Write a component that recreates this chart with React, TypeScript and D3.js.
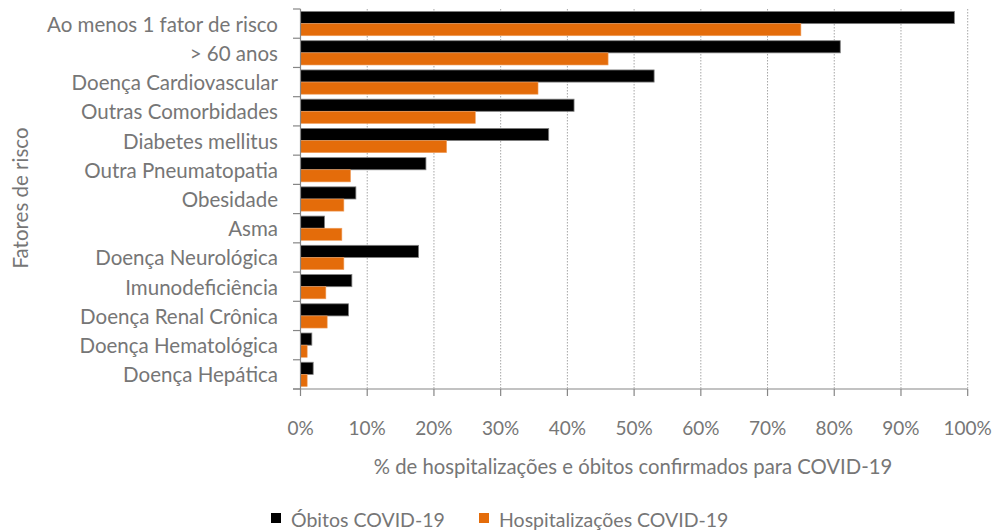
import React from "react";
import * as d3 from "d3";

const categories = [
  "Ao menos 1 fator de risco",
  "> 60 anos",
  "Doença Cardiovascular",
  "Outras Comorbidades",
  "Diabetes mellitus",
  "Outra Pneumatopatia",
  "Obesidade",
  "Asma",
  "Doença Neurológica",
  "Imunodeficiência",
  "Doença Renal Crônica",
  "Doença Hematológica",
  "Doença Hepática",
];
const obitos = [98.0, 80.9, 53.0, 41.0, 37.2, 18.8, 8.3, 3.6, 17.7, 7.7, 7.2, 1.7, 1.9];
const hospitalizacoes = [75.0, 46.1, 35.6, 26.2, 21.9, 7.5, 6.5, 6.2, 6.5, 3.8, 4.0, 1.0, 1.0];
const xTicks = [0, 10, 20, 30, 40, 50, 60, 70, 80, 90, 100];
const seriesNames = ["Óbitos COVID-19", "Hospitalizações COVID-19"];
const seriesColors = ["#000000", "#E46C0A"];

const W = 998;
const H = 530;
const FONT = "Lato, 'Open Sans', sans-serif";
const TXT = "#767676";

export default function App() {
  const x = d3.scaleLinear().domain([0, 100]).range([300.5, 967.7]);
  const y = d3.scaleBand<string>().domain(categories).range([9, 389]).paddingInner(0.17).paddingOuter(0.085);
  const inner = d3.scaleBand<number>().domain([0, 1]).range([0, y.bandwidth()]);
  const series = [obitos, hospitalizacoes];
  const bandStep = y.step();
  const tickYs = categories.map((_, i) => 9 + i * bandStep).concat([389]);

  return (
    <svg width={W} height={H} style={{ position: "absolute", left: 0, top: 0 }} fontFamily={FONT}>
      {xTicks.filter((t) => t > 0).map((t) => (
        <line key={"g" + t} x1={x(t)} x2={x(t)} y1={9} y2={389} stroke="#A6A6A6" strokeWidth={1} strokeDasharray="1.5,1.5" />
      ))}
      {categories.map((c, i) => (
        <g key={c} transform={`translate(0,${y(c)})`}>
          {series.map((s, k) => (
            <rect
              key={k}
              x={x(0)}
              y={inner(k)!}
              width={x(s[i]) - x(0)}
              height={inner.bandwidth()}
              fill={seriesColors[k]}
              stroke={k === 0 ? "#7f7f7f" : "#F0A060"}
              strokeWidth={k === 0 ? 0.8 : 0.6}
            />
          ))}
        </g>
      ))}
      <line x1={300.5} x2={300.5} y1={9} y2={389} stroke="#868686" strokeWidth={1.2} />
      {tickYs.map((ty, i) => (
        <line key={"yt" + i} x1={293} x2={300.5} y1={ty} y2={ty} stroke="#868686" strokeWidth={1.2} />
      ))}
      <line x1={293} x2={967.7} y1={389} y2={389} stroke="#868686" strokeWidth={1.2} />
      {xTicks.map((t) => (
        <g key={"xt" + t}>
          <line x1={x(t)} x2={x(t)} y1={389} y2={396} stroke="#868686" strokeWidth={1.2} />
          <text x={x(t)} y={427} textAnchor="middle" dominantBaseline="central" fontSize={19} fill={TXT}>
            {t + "%"}
          </text>
        </g>
      ))}
      {categories.map((c) => (
        <text key={"l" + c} x={278} y={y(c)! + y.bandwidth() / 2} textAnchor="end" dominantBaseline="central" fontSize={20.5} fill={TXT}>
          {c}
        </text>
      ))}
      <text x={633} y={466} textAnchor="middle" dominantBaseline="central" fontSize={20.3} fill={TXT}>
        % de hospitalizações e óbitos confirmados para COVID-19
      </text>
      <text transform="translate(20,198) rotate(-90)" textAnchor="middle" dominantBaseline="central" fontSize={20.5} fill={TXT}>
        Fatores de risco
      </text>
      {seriesNames.map((n, k) => {
        const lx = k === 0 ? 271 : 479;
        return (
          <g key={n}>
            <rect x={lx} y={513} width={10} height={10} fill={seriesColors[k]} />
            <text x={lx + 20} y={519} dominantBaseline="central" fontSize={19.5} fill={TXT}>
              {n}
            </text>
          </g>
        );
      })}
    </svg>
  );
}
